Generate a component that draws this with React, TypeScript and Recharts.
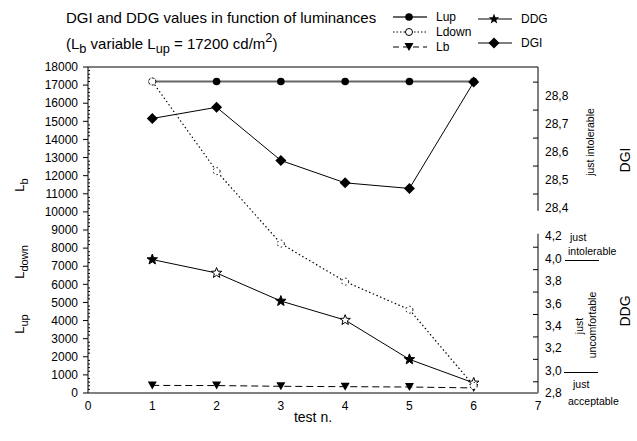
import React from "react";
import { ComposedChart, Line, XAxis, YAxis, ReferenceLine } from "recharts";

// test number on the x axis
const TESTS = [1, 2, 3, 4, 5, 6];
// luminances, cd/m2 (left axis)
const L_UP = [17200, 17200, 17200, 17200, 17200, 17200];
const L_DOWN = [17200, 12250, 8250, 6150, 4600, 400];
const L_B = [420, 410, 370, 350, 330, 280];
// glare indexes (right axes)
const DDG = [3.99, 3.87, 3.62, 3.45, 3.1, 2.89];
const DGI = [28.72, 28.76, 28.57, 28.49, 28.47, 28.85];

const X_TICKS = [0, 1, 2, 3, 4, 5, 6, 7];
const LEFT_TICKS = [
  0, 1000, 2000, 3000, 4000, 5000, 6000, 7000, 8000, 9000, 10000, 11000, 12000,
  13000, 14000, 15000, 16000, 17000, 18000,
];
const LEFT_MINOR = Array.from({ length: 91 }, (_, i) => i * 200);
const DGI_TICKS = [28.4, 28.5, 28.6, 28.7, 28.8];
const DGI_MARKS = [28.45, 28.55, 28.65, 28.75, 28.85];
const DDG_TICKS = [2.8, 3.0, 3.2, 3.4, 3.6, 3.8, 4.0, 4.2];
const DDG_MARKS = [2.9, 3.1, 3.3, 3.5, 3.7, 3.9, 4.1];

const DGI_DOMAIN: [number, number] = [27.739, 28.904];
const DDG_DOMAIN: [number, number] = [2.8, 5.707];

const data = TESTS.map((t, i) => ({
  test: t,
  lup: L_UP[i],
  ldown: L_DOWN[i],
  lb: L_B[i],
  ddg: DDG[i],
  dgi: DGI[i],
}));

const FONT = '"Liberation Sans", Arial, sans-serif';
const tickStyle = { fill: "#000", fontSize: 12, fontFamily: FONT };
const comma = (v: number) => v.toFixed(1).replace(".", ",");
const near = (list: number[], v: number) => list.some((t) => Math.abs(t - v) < 1e-6);

// left axis: labelled ticks point outward, minor ticks point inward
const LeftTick = (p: any) => {
  const v = p.payload.value;
  const axisX = p.x + 10;
  if (near(LEFT_TICKS, v)) {
    return (
      <g>
        <line x1={axisX - 5} y1={p.y} x2={axisX} y2={p.y} stroke="#000" />
        <text x={p.x} y={p.y} dy="0.355em" textAnchor="end" {...tickStyle}>
          {v}
        </text>
      </g>
    );
  }
  return <line x1={axisX} y1={p.y} x2={axisX + 2} y2={p.y} stroke="#000" />;
};

// right axes: comma-decimal labels, inward ticks between them
const rightTick = (labels: number[], gap: number) => (p: any) => {
  const v = p.payload.value;
  const axisX = p.x - gap;
  if (near(labels, v)) {
    return (
      <text x={p.x} y={p.y} dy="0.355em" textAnchor="start" {...tickStyle}>
        {comma(v)}
      </text>
    );
  }
  return <line x1={axisX - 5} y1={p.y} x2={axisX} y2={p.y} stroke="#000" />;
};

function starPoints(cx: number, cy: number, r: number) {
  const pts: string[] = [];
  for (let i = 0; i < 10; i++) {
    const rr = i % 2 === 0 ? r : r * 0.42;
    const a = -Math.PI / 2 + (i * Math.PI) / 5;
    pts.push(`${cx + rr * Math.cos(a)},${cy + rr * Math.sin(a)}`);
  }
  return pts.join(" ");
}

const StarDot = (p: any) => (
  <polygon
    key={`s${p.index}`}
    points={starPoints(p.cx, p.cy, 5.5)}
    fill={p.index % 2 === 0 ? "#000" : "#fff"}
    stroke="#000"
    strokeWidth={1}
  />
);

const DiamondDot = (p: any) => (
  <polygon
    key={`d${p.index}`}
    points={`${p.cx},${p.cy - 5.5} ${p.cx + 5.5},${p.cy} ${p.cx},${p.cy + 5.5} ${p.cx - 5.5},${p.cy}`}
    fill="#000"
  />
);

const TriDot = (p: any) => (
  <polygon
    key={`t${p.index}`}
    points={`${p.cx - 4.5},${p.cy - 4} ${p.cx + 4.5},${p.cy - 4} ${p.cx},${p.cy + 4}`}
    fill="#000"
  />
);

function LegendItem({ x, y, label, kind }: { x: number; y: number; label: string; kind: string }) {
  const dash = kind === "ldown" ? "1.5 2" : kind === "lb" ? "6 4" : undefined;
  const stroke = kind === "lup" ? "#666" : "#000";
  return (
    <div style={{ position: "absolute", left: x, top: y - 8, height: 16, display: "flex", alignItems: "center" }}>
      <svg width={38} height={16}>
        <line x1={1} y1={8} x2={35} y2={8} stroke={stroke} strokeWidth={kind === "lup" ? 2 : 1} strokeDasharray={dash} />
        {kind === "lup" && <circle cx={17} cy={8} r={3.8} fill="#000" />}
        {kind === "ldown" && <circle cx={17} cy={8} r={3.5} fill="#fff" stroke="#000" />}
        {kind === "lb" && <polygon points="12.5,4 21.5,4 17,12" fill="#000" />}
        {kind === "ddg" && <polygon points={starPoints(17, 8, 5.5)} fill="#000" />}
        {kind === "dgi" && <polygon points="17,2.5 22.5,8 17,13.5 11.5,8" fill="#000" />}
      </svg>
      <span style={{ fontSize: 12, marginLeft: 6 }}>{label}</span>
    </div>
  );
}

function Rot({ x, y, size, children }: { x: number; y: number; size: number; children: React.ReactNode }) {
  return (
    <div
      style={{
        position: "absolute",
        left: x,
        top: y,
        fontSize: size,
        whiteSpace: "nowrap",
        transform: "translate(-50%, -50%) rotate(-90deg)",
      }}
    >
      {children}
    </div>
  );
}

function Txt({ x, y, size, children }: { x: number; y: number; size: number; children: React.ReactNode }) {
  return (
    <div style={{ position: "absolute", left: x, top: y, fontSize: size, whiteSpace: "nowrap", transform: "translateY(-50%)" }}>
      {children}
    </div>
  );
}

const sub = { fontSize: "0.85em", verticalAlign: "-0.3em" } as const;
const sup = { fontSize: "0.85em", verticalAlign: "0.55em" } as const;

export default function App() {
  return (
    <div style={{ position: "absolute", left: 0, top: 0, width: 637, height: 441, fontFamily: FONT, color: "#000", background: "#fff" }}>
      <ComposedChart width={637} height={441} data={data} margin={{ top: 67, right: 0, bottom: 0, left: 0 }}>
        <XAxis
          xAxisId={0}
          type="number"
          dataKey="test"
          domain={[0, 7]}
          ticks={X_TICKS}
          interval={0}
          height={48}
          tickLine={false}
          axisLine={{ stroke: "#808080", strokeWidth: 2 }}
          tick={tickStyle}
          tickMargin={2}
          label={{ value: "test n.", position: "insideBottom", offset: 19, fill: "#000", fontSize: 14, fontFamily: FONT }}
        />
        <YAxis
          yAxisId="left"
          domain={[0, 18000]}
          ticks={LEFT_MINOR}
          interval={0}
          width={88}
          tickSize={5}
          tickMargin={5}
          tickLine={false}
          axisLine={{ stroke: "#000" }}
          tick={LeftTick}
        />
        <YAxis
          yAxisId="ddg"
          orientation="right"
          width={99}
          domain={DDG_DOMAIN}
          allowDataOverflow
          ticks={[...DDG_TICKS, ...DDG_MARKS].sort((a, b) => a - b)}
          interval={0}
          tickLine={false}
          axisLine={false}
          tickSize={3}
          tickMargin={4}
          tick={rightTick(DDG_TICKS, 7)}
        />
        <YAxis
          yAxisId="dgi"
          orientation="right"
          mirror
          width={1}
          domain={DGI_DOMAIN}
          allowDataOverflow
          ticks={[...DGI_TICKS, ...DGI_MARKS].sort((a, b) => a - b)}
          interval={0}
          tickLine={false}
          axisLine={false}
          tickSize={0}
          tickMargin={-7}
          tick={rightTick(DGI_TICKS, 7)}
        />
        <ReferenceLine yAxisId="left" y={18000} stroke="#000" strokeWidth={1} />
        <ReferenceLine
          yAxisId="dgi"
          ifOverflow="visible"
          segment={[{ x: 7, y: DGI_DOMAIN[1] }, { x: 7, y: 28.39 }]}
          stroke="#000"
        />
        <ReferenceLine
          yAxisId="ddg"
          ifOverflow="visible"
          segment={[{ x: 7, y: 4.22 }, { x: 7, y: 2.8 }]}
          stroke="#000"
        />
        <Line
          yAxisId="left"
          dataKey="lup"
          stroke="#666"
          strokeWidth={2}
          dot={{ r: 3.8, fill: "#000", stroke: "#000", strokeWidth: 0 }}
          isAnimationActive={false}
        />
        <Line
          yAxisId="left"
          dataKey="lb"
          stroke="#000"
          strokeWidth={1}
          strokeDasharray="7 4"
          dot={TriDot}
          isAnimationActive={false}
        />
        <Line yAxisId="ddg" dataKey="ddg" stroke="#000" strokeWidth={1} dot={StarDot} isAnimationActive={false} />
        <Line
          yAxisId="left"
          dataKey="ldown"
          stroke="#000"
          strokeWidth={1.2}
          strokeDasharray="1.5 2.5"
          dot={{ r: 3.5, fill: "#fff", stroke: "#000", strokeWidth: 1 }}
          isAnimationActive={false}
        />
        <Line yAxisId="dgi" dataKey="dgi" stroke="#000" strokeWidth={1} dot={DiamondDot} isAnimationActive={false} />
      </ComposedChart>

      <Txt x={66} y={17} size={15}>DGI and DDG values in function of luminances</Txt>
      <Txt x={66} y={43} size={15}>
        (L<span style={sub}>b</span> variable L<span style={sub}>up</span> = 17200 cd/m<span style={sup}>2</span>)
      </Txt>

      <LegendItem x={392} y={17} label="Lup" kind="lup" />
      <LegendItem x={392} y={32} label="Ldown" kind="ldown" />
      <LegendItem x={392} y={47} label="Lb" kind="lb" />
      <LegendItem x={477} y={19} label="DDG" kind="ddg" />
      <LegendItem x={477} y={43} label="DGI" kind="dgi" />

      <Rot x={21} y={185} size={13}>
        L<span style={sub}>b</span>
      </Rot>
      <Rot x={21} y={262} size={13}>
        L<span style={sub}>down</span>
      </Rot>
      <Rot x={21} y={324} size={13}>
        L<span style={sub}>up</span>
      </Rot>

      <Rot x={625} y={160} size={14}>DGI</Rot>
      <Rot x={590} y={142} size={10.5}>just intolerable</Rot>

      <Txt x={570} y={237} size={10.5}>just</Txt>
      <Txt x={568} y={251} size={10.5}>intolerable</Txt>
      <div style={{ position: "absolute", left: 565, top: 260, width: 34, height: 1, background: "#000" }} />
      <Rot x={625} y={311} size={14}>DDG</Rot>
      <Rot x={579} y={326} size={10.5}>just</Rot>
      <Rot x={592} y={325} size={10.5}>uncomfortable</Rot>
      <div style={{ position: "absolute", left: 564, top: 372, width: 34, height: 1, background: "#000" }} />
      <Txt x={573} y={384} size={10.5}>just</Txt>
      <Txt x={568} y={401} size={10.5}>acceptable</Txt>
    </div>
  );
}
